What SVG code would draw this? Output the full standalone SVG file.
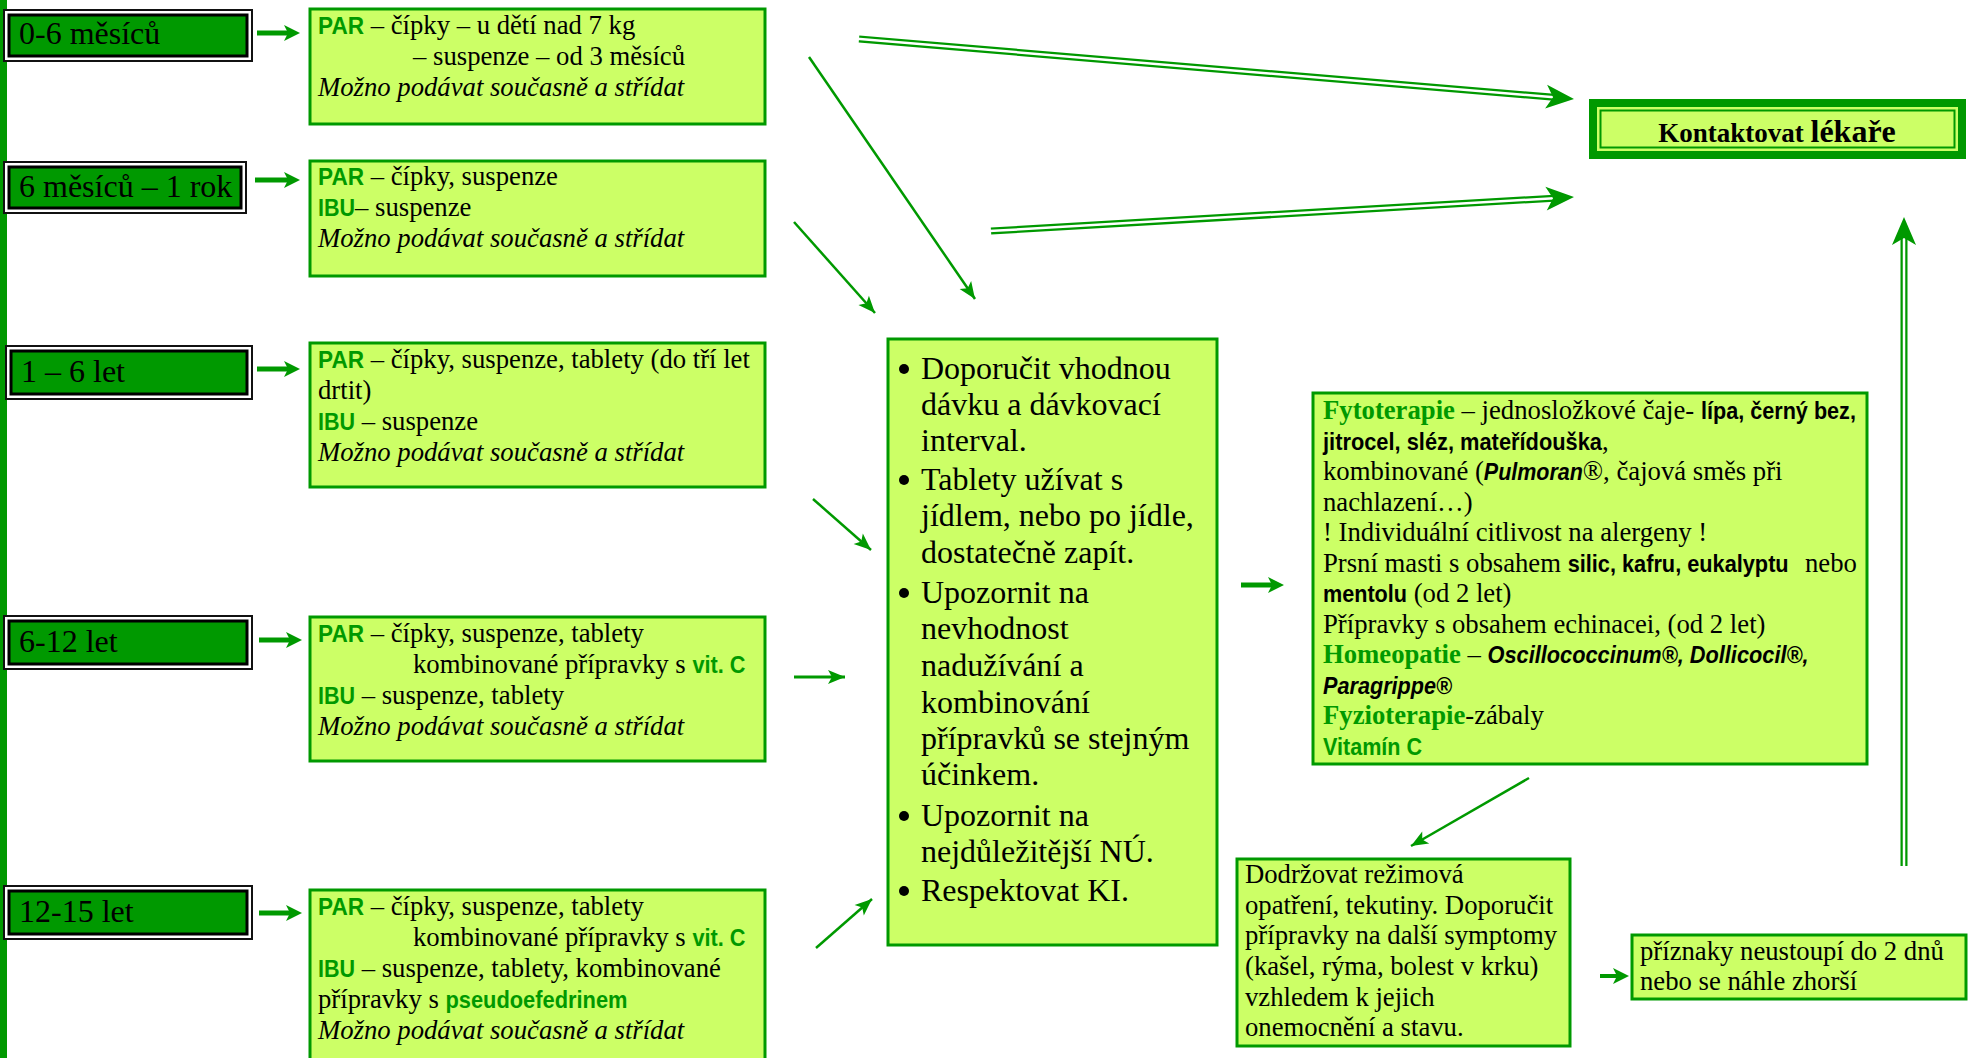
<svg xmlns="http://www.w3.org/2000/svg" xmlns:xlink="http://www.w3.org/1999/xlink" width="1980" height="1058" viewBox="0 0 1980 1058">
<style>
.t{font-family:"Liberation Serif","Times New Roman",serif;font-size:26.7px;fill:#000}
.i{font-style:italic}
.sb{font-family:"Liberation Sans",Arial,sans-serif;font-weight:bold;font-size:24px}
.sbi{font-family:"Liberation Sans",Arial,sans-serif;font-weight:bold;font-style:italic;font-size:24px}
.g{fill:#009900}
.tbg{font-weight:bold;fill:#009900}
.age{font-family:"Liberation Serif","Times New Roman",serif;font-size:32px;fill:#000}
.big{font-family:"Liberation Serif","Times New Roman",serif;font-size:32px;fill:#000}
.box{fill:#CCFF66;stroke:#009900;stroke-width:3}
.agout{fill:#fff;stroke:#111;stroke-width:2}
.agin{fill:#009900;stroke:#000;stroke-width:3}
.thin{fill:none;stroke:#009900;stroke-width:2.5}
.thick{fill:none;stroke:#009900;stroke-width:5}
.dbl{fill:none;stroke:#009900;stroke-width:7}
.dblw{fill:none;stroke:#fff;stroke-width:2.5}
</style>
<defs>
<marker id="ah" markerUnits="userSpaceOnUse" viewBox="-20 -10 24 20" refX="0" refY="0" markerWidth="24" markerHeight="20" orient="auto" overflow="visible">
<path d="M0,0 L-17,-7 L-13,0 L-17,7 Z" fill="#009900"/>
</marker>
<marker id="ahb" markerUnits="userSpaceOnUse" viewBox="-2 -10 24 20" refX="4" refY="0" markerWidth="24" markerHeight="20" orient="auto" overflow="visible">
<path d="M16,0 L0,-8 L4,0 L0,8 Z" fill="#009900"/>
</marker>
<path id="dhead" d="M0,0 L-28,-12 L-21,0 L-28,12 Z" fill="#009900"/>
</defs>

<rect x="0" y="0" width="7" height="1058" fill="#009900"/>

<g id="age1"><rect class="agout" x="4" y="10" width="248" height="51"/><rect class="agin" x="9" y="15" width="238" height="41"/><text class="age" x="19" y="44">0-6 měsíců</text></g>
<g id="age2"><rect class="agout" x="4" y="162" width="242" height="51"/><rect class="agin" x="9" y="167" width="232" height="41"/><text class="age" x="19" y="197">6 měsíců – 1 rok</text></g>
<g id="age3"><rect class="agout" x="6" y="346" width="246" height="53"/><rect class="agin" x="11" y="351" width="236" height="43"/><text class="age" x="21" y="382">1 – 6 let</text></g>
<g id="age4"><rect class="agout" x="4" y="616" width="248" height="53"/><rect class="agin" x="9" y="621" width="238" height="43"/><text class="age" x="19" y="652">6-12 let</text></g>
<g id="age5"><rect class="agout" x="4" y="886" width="248" height="53"/><rect class="agin" x="9" y="891" width="238" height="43"/><text class="age" x="19" y="922">12-15 let</text></g>

<g id="drug1"><rect class="box" x="310" y="9" width="455" height="115"/>
<text class="t" x="318" y="34"><tspan class="sb g" textLength="46" lengthAdjust="spacingAndGlyphs">PAR</tspan> – čípky – u dětí nad 7 kg</text>
<text class="t" x="413" y="65">– suspenze – od 3 měsíců</text>
<text class="t i" x="318" y="96">Možno podávat současně a střídat</text></g>

<g id="drug2"><rect class="box" x="310" y="161" width="455" height="115"/>
<text class="t" x="318" y="185"><tspan class="sb g" textLength="46" lengthAdjust="spacingAndGlyphs">PAR</tspan> – čípky, suspenze</text>
<text class="t" x="318" y="216"><tspan class="sb g" textLength="37" lengthAdjust="spacingAndGlyphs">IBU</tspan>– suspenze</text>
<text class="t i" x="318" y="247">Možno podávat současně a střídat</text></g>

<g id="drug3"><rect class="box" x="310" y="343" width="455" height="144"/>
<text class="t" x="318" y="368"><tspan class="sb g" textLength="46" lengthAdjust="spacingAndGlyphs">PAR</tspan> – čípky, suspenze, tablety (do tří let</text>
<text class="t" x="318" y="399">drtit)</text>
<text class="t" x="318" y="430"><tspan class="sb g" textLength="37" lengthAdjust="spacingAndGlyphs">IBU</tspan> – suspenze</text>
<text class="t i" x="318" y="461">Možno podávat současně a střídat</text></g>

<g id="drug4"><rect class="box" x="310" y="617" width="455" height="144"/>
<text class="t" x="318" y="642"><tspan class="sb g" textLength="46" lengthAdjust="spacingAndGlyphs">PAR</tspan> – čípky, suspenze, tablety</text>
<text class="t" x="413" y="673">kombinované přípravky s <tspan class="sb g" textLength="53" lengthAdjust="spacingAndGlyphs">vit. C</tspan></text>
<text class="t" x="318" y="704"><tspan class="sb g" textLength="37" lengthAdjust="spacingAndGlyphs">IBU</tspan> – suspenze, tablety</text>
<text class="t i" x="318" y="735">Možno podávat současně a střídat</text></g>

<g id="drug5"><rect class="box" x="310" y="890" width="455" height="190"/>
<text class="t" x="318" y="915"><tspan class="sb g" textLength="46" lengthAdjust="spacingAndGlyphs">PAR</tspan> – čípky, suspenze, tablety</text>
<text class="t" x="413" y="946">kombinované přípravky s <tspan class="sb g" textLength="53" lengthAdjust="spacingAndGlyphs">vit. C</tspan></text>
<text class="t" x="318" y="977"><tspan class="sb g" textLength="37" lengthAdjust="spacingAndGlyphs">IBU</tspan> – suspenze, tablety, kombinované</text>
<text class="t" x="318" y="1008">přípravky s <tspan class="sb g" textLength="182" lengthAdjust="spacingAndGlyphs">pseudoefedrinem</tspan></text>
<text class="t i" x="318" y="1039">Možno podávat současně a střídat</text></g>

<g id="center"><rect class="box" x="888" y="339" width="329" height="606"/>
<g fill="#000"><circle cx="904" cy="369" r="5"/><circle cx="904" cy="480" r="5"/><circle cx="904" cy="593" r="5"/><circle cx="904" cy="816" r="5"/><circle cx="904" cy="891" r="5"/></g>
<text class="big" x="921" y="379">Doporučit vhodnou</text>
<text class="big" x="921" y="415">dávku a dávkovací</text>
<text class="big" x="921" y="451">interval.</text>
<text class="big" x="921" y="490">Tablety užívat s</text>
<text class="big" x="921" y="526">jídlem, nebo po jídle,</text>
<text class="big" x="921" y="563">dostatečně zapít.</text>
<text class="big" x="921" y="603">Upozornit na</text>
<text class="big" x="921" y="639">nevhodnost</text>
<text class="big" x="921" y="676">nadužívání a</text>
<text class="big" x="921" y="713">kombinování</text>
<text class="big" x="921" y="749">přípravků se stejným</text>
<text class="big" x="921" y="785">účinkem.</text>
<text class="big" x="921" y="826">Upozornit na</text>
<text class="big" x="921" y="862">nejdůležitější NÚ.</text>
<text class="big" x="921" y="901">Respektovat KI.</text></g>

<g id="fyto"><rect class="box" x="1313" y="393" width="554" height="371"/>
<text class="t" x="1323" y="419"><tspan class="tbg">Fytoterapie</tspan> – jednosložkové čaje- <tspan class="sb" textLength="155" lengthAdjust="spacingAndGlyphs">lípa, černý bez,</tspan></text>
<text class="t" x="1323" y="449.5"><tspan class="sb" textLength="279" lengthAdjust="spacingAndGlyphs">jitrocel, sléz, mateřídouška</tspan>,</text>
<text class="t" x="1323" y="480">kombinované (<tspan class="sbi" textLength="99" lengthAdjust="spacingAndGlyphs">Pulmoran</tspan>®, čajová směs při</text>
<text class="t" x="1323" y="510.5">nachlazení…)</text>
<text class="t" x="1323" y="541">! Individuální citlivost na alergeny !</text>
<text class="t" x="1323" y="571.5">Prsní masti s obsahem <tspan class="sb" textLength="221" lengthAdjust="spacingAndGlyphs">silic, kafru, eukalyptu</tspan><tspan x="1805">nebo</tspan></text>
<text class="t" x="1323" y="602"><tspan class="sb" textLength="84" lengthAdjust="spacingAndGlyphs">mentolu</tspan> (od 2 let)</text>
<text class="t" x="1323" y="632.5">Přípravky s obsahem echinacei, (od 2 let)</text>
<text class="t" x="1323" y="663"><tspan class="tbg">Homeopatie</tspan> – <tspan class="sbi" textLength="321" lengthAdjust="spacingAndGlyphs">Oscillococcinum®, Dollicocil®,</tspan></text>
<text class="t" x="1323" y="693.5"><tspan class="sbi" textLength="129" lengthAdjust="spacingAndGlyphs">Paragrippe®</tspan></text>
<text class="t" x="1323" y="724"><tspan class="tbg">Fyzioterapie</tspan>-zábaly</text>
<text class="t" x="1323" y="754.5"><tspan class="sb g" textLength="99" lengthAdjust="spacingAndGlyphs">Vitamín C</tspan></text></g>

<g id="rezim"><rect class="box" x="1237" y="859" width="333" height="187"/>
<text class="t" x="1245" y="883">Dodržovat režimová</text>
<text class="t" x="1245" y="914">opatření, tekutiny. Doporučit</text>
<text class="t" x="1245" y="944">přípravky na další symptomy</text>
<text class="t" x="1245" y="975">(kašel, rýma, bolest v krku)</text>
<text class="t" x="1245" y="1006">vzhledem k jejich</text>
<text class="t" x="1245" y="1036">onemocnění a stavu.</text></g>

<g id="priznaky"><rect class="box" x="1632" y="935" width="334" height="64"/>
<text class="t" x="1640" y="960">příznaky neustoupí do 2 dnů</text>
<text class="t" x="1640" y="990">nebo se náhle zhorší</text></g>

<g id="lekar"><rect x="1589" y="99" width="377" height="60" fill="#009900"/>
<rect x="1597" y="107" width="361" height="44" fill="#CCFF66"/>
<rect x="1600.5" y="110.5" width="354" height="37" fill="#CCFF66" stroke="#009900" stroke-width="2"/>
<text x="1777" y="142" text-anchor="middle" font-family="Liberation Serif, Times New Roman, serif" font-weight="bold" fill="#000"><tspan font-size="27">Kontaktovat </tspan><tspan font-size="32">lékaře</tspan></text></g>

<g id="connectors">
<path class="thick" d="M257,33 H288" marker-end="url(#ahb)"/>
<path class="thick" d="M255,180 H288" marker-end="url(#ahb)"/>
<path class="thick" d="M257,369 H288" marker-end="url(#ahb)"/>
<path class="thick" d="M259,640 H290" marker-end="url(#ahb)"/>
<path class="thick" d="M259,913 H290" marker-end="url(#ahb)"/>
<path class="thin" d="M809,57 L975,299" marker-end="url(#ah)"/>
<path class="thin" d="M794,222 L875,313" marker-end="url(#ah)"/>
<path class="thin" d="M813,499 L871,550" marker-end="url(#ah)"/>
<path class="thin" style="stroke-width:3" d="M794,677 L845,677" marker-end="url(#ah)"/>
<path class="thin" d="M816,948 L872,899" marker-end="url(#ah)"/>
<path class="thick" d="M1241,585 H1272" marker-end="url(#ahb)"/>
<path class="thin" d="M1529,778 L1411,846" marker-end="url(#ah)"/>
<path class="thick" style="stroke-width:4" d="M1600,976 H1617" marker-end="url(#ahb)"/>
<path class="dbl" d="M859,39 L1554,97.3"/>
<path class="dblw" d="M857,38.8 L1554,97.3"/>
<use xlink:href="#dhead" transform="translate(1574,99) rotate(4.8)"/>
<path class="dbl" d="M991,231 L1554,198.2"/>
<path class="dblw" d="M989,231.1 L1554,198.2"/>
<use xlink:href="#dhead" transform="translate(1574,197) rotate(-3.34)"/>
<path class="dbl" d="M1904,866 V237"/>
<path class="dblw" d="M1904,868 V237"/>
<use xlink:href="#dhead" transform="translate(1904,217) rotate(-90)"/>
</g>
</svg>
